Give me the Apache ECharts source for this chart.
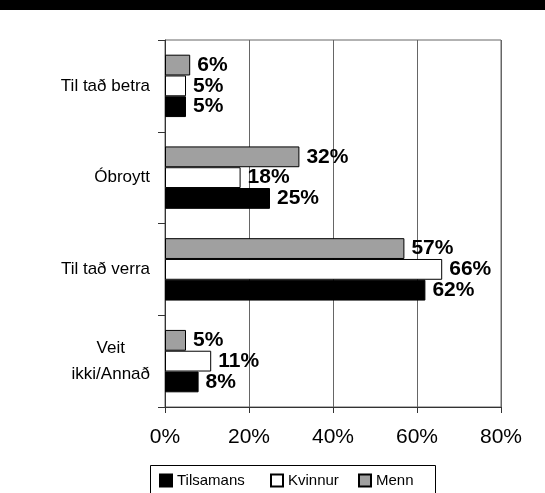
<!DOCTYPE html>
<html>
<head>
<meta charset="utf-8">
<script src="https://cdn.jsdelivr.net/npm/echarts@6/dist/echarts.min.js"></script>
<style>
  html, body { margin: 0; padding: 0; background: #fff; }
  #chart { width: 545px; height: 493px; }
</style>
</head>
<body>
<div id="chart"></div>
<script>
// categories from bottom to top (category axis runs upward)
var categories = ['Veit\nikki/Annað', 'Til tað verra', 'Óbroytt', 'Til tað betra'];
var tilsamans = [8, 62, 25, 5];
var kvinnur = [11, 66, 18, 5];
var menn = [5, 57, 32, 6];
var xTicks = [0, 20, 40, 60, 80];

var chart = echarts.init(document.getElementById('chart'));

function barSeries(name, data, color) {
  return {
    name: name,
    type: 'bar',
    data: data,
    barGap: '0%',
    barCategoryGap: '32%',
    itemStyle: { color: color, borderColor: '#000', borderWidth: 1 },
    label: {
      show: true,
      position: 'right',
      distance: 7,
      formatter: '{c}%',
      color: '#000',
      fontFamily: 'Liberation Sans',
      fontWeight: 'bold',
      fontSize: 21
    }
  };
}

// one legend per entry so each can sit where the original has it
function legendAt(name, x) {
  return {
    data: [name],
    top: 473,
    left: x,
    padding: 0,
    itemWidth: 12,
    itemHeight: 12,
    icon: 'rect',
    textStyle: { fontFamily: 'Liberation Sans', fontSize: 15, color: '#000' }
  };
}

chart.setOption({
  animation: false,
  graphic: [
    { type: 'rect', shape: { x: 0, y: 0, width: 545, height: 10 }, style: { fill: '#000' } },
    { type: 'rect', shape: { x: 150.5, y: 465.5, width: 285, height: 40 }, style: { fill: 'none', stroke: '#000', lineWidth: 1 } }
  ],
  grid: { left: 165, right: 44, top: 40, bottom: 86, show: true, borderColor: '#666', borderWidth: 1 },
  legend: [
    legendAt('Tilsamans', 159),
    legendAt('Kvinnur', 270),
    legendAt('Menn', 358)
  ],
  xAxis: {
    type: 'value',
    min: xTicks[0],
    max: xTicks[xTicks.length - 1],
    interval: 20,
    axisLine: { show: true, lineStyle: { color: '#333' } },
    axisTick: { show: true, inside: false, length: 6, lineStyle: { color: '#333' } },
    splitLine: { show: true, lineStyle: { color: '#666' } },
    axisLabel: { formatter: '{value}%', color: '#000', fontFamily: 'Liberation Sans', fontSize: 21, margin: 20 }
  },
  yAxis: {
    type: 'category',
    data: categories,
    axisLine: { show: true, lineStyle: { color: '#333' } },
    axisTick: { show: true, length: 7, lineStyle: { color: '#333' } },
    axisLabel: {
      color: '#000',
      margin: 15,
      formatter: function (v) {
        return v.split('\n').map(function (s) { return '{c|' + s + '}'; }).join('\n');
      },
      rich: { c: { align: 'center', fontFamily: 'Liberation Sans', fontSize: 17, lineHeight: 26, color: '#000' } }
    }
  },
  series: [
    barSeries('Menn', menn, '#a0a0a0'),
    barSeries('Kvinnur', kvinnur, '#fff'),
    barSeries('Tilsamans', tilsamans, '#000')
  ]
});
</script>
</body>
</html>
